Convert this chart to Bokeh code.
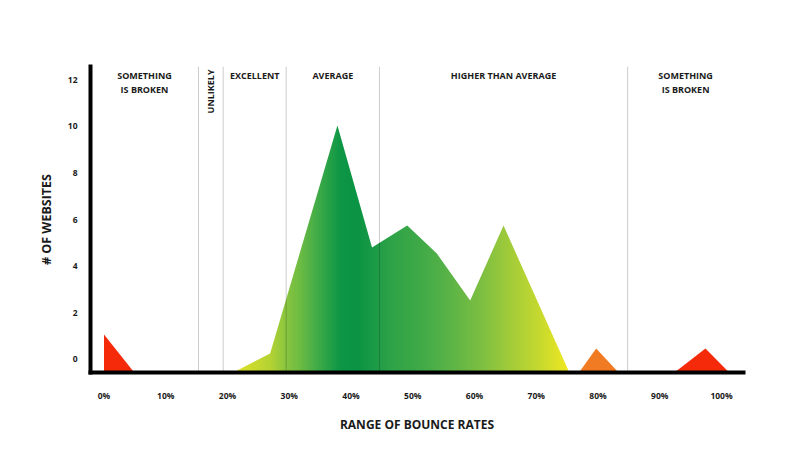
import numpy as np
from bokeh.plotting import figure
from bokeh.models import Range1d, FixedTicker, Span
from bokeh.core.properties import value
from bokeh.embed import file_html
from bokeh.resources import INLINE

# ---------------- data ----------------
X_TICKS = [0, 10, 20, 30, 40, 50, 60, 70, 80, 90, 100]
X_TICK_LABELS = ["0%", "10%", "20%", "30%", "40%", "50%", "60%", "70%", "80%", "90%", "100%"]
Y_TICKS = [0, 2, 4, 6, 8, 10, 12]

BASE = -0.5  # floor of the chart (axis line)

GREEN_X = [21.4, 26.9, 37.8, 43.4, 49.1, 53.9, 59.3, 64.7, 75.25]
GREEN_Y = [BASE, 0.26, 10.03, 4.8, 5.74, 4.54, 2.53, 5.74, BASE]

RED_LEFT_X = [0.0, 0.0, 4.7]
RED_LEFT_Y = [BASE, 1.07, BASE]
ORANGE_X = [77.1, 79.7, 83.1]
ORANGE_Y = [BASE, 0.47, BASE]
RED_RIGHT_X = [92.7, 97.4, 101.0]
RED_RIGHT_Y = [BASE, 0.47, BASE]

DIVIDERS = [15.3, 19.3, 29.5, 44.6, 84.8]
REGION_LABELS = ["SOMETHING\nIS BROKEN", "UNLIKELY", "EXCELLENT", "AVERAGE",
                 "HIGHER THAN AVERAGE", "SOMETHING\nIS BROKEN"]

X_START, X_END = -2.19, 103.56
Y_START, Y_END = -0.56, 12.56

FONT = "Open Sans"

# gradient stops (style): position in % and colour
GRAD_POS = [21.4, 26.9, 29.3, 31.8, 35.0, 38.2, 40.7, 43.4, 46.3, 51.2, 56.0, 61.0, 65.8, 70.7, 75.25]
GRAD_COL = ["#dfe226", "#b5d334", "#8cc63f", "#6bbb44", "#3aa948", "#0f9746", "#0a9444",
            "#1a9a47", "#2ea347", "#40aa48", "#5bb447", "#7dbf42", "#a3cc3a", "#c8da2e", "#f2e923"]

# ---------------- figure ----------------
p = figure(frame_width=653, frame_height=306,
           min_border_left=90, min_border_top=66, min_border_right=49, min_border_bottom=70,
           x_range=Range1d(X_START, X_END), y_range=Range1d(Y_START, Y_END),
           output_backend="svg", toolbar_location=None,
           background_fill_color="white", border_fill_color="white")
p.outline_line_color = None
p.xgrid.grid_line_color = None
p.ygrid.grid_line_color = None

# gradient area: gradient image masked above the curve
def hex_to_rgb(h):
    h = h.lstrip("#")
    return [int(h[i:i + 2], 16) for i in (0, 2, 4)]

rgb = np.array([hex_to_rgb(c) for c in GRAD_COL], dtype=float)
N = 400
xs = np.linspace(GREEN_X[0], GREEN_X[-1], N)
img = np.zeros((1, N), dtype=np.uint32)
view = img.view(dtype=np.uint8).reshape((1, N, 4))
for k in range(3):
    view[0, :, k] = np.interp(xs, GRAD_POS, rgb[:, k]).astype(np.uint8)
view[0, :, 3] = 255
top = max(GREEN_Y) + 0.3
p.image_rgba(image=[img], x=GREEN_X[0], y=BASE, dw=GREEN_X[-1] - GREEN_X[0], dh=top - BASE)
pad = 0.6
mask_x = [GREEN_X[0] - pad] + GREEN_X + [GREEN_X[-1] + pad]
mask_y = [BASE] + GREEN_Y + [BASE]
p.varea(x=mask_x, y1=mask_y, y2=[top + 0.3] * len(mask_x), fill_color="white")

# triangles
p.patch(RED_LEFT_X, RED_LEFT_Y, fill_color="#f42a0a", line_color=None)
p.patch(ORANGE_X, ORANGE_Y, fill_color="#f07b23", line_color=None)
p.patch(RED_RIGHT_X, RED_RIGHT_Y, fill_color="#f42a0a", line_color=None)

# region dividers
for d in DIVIDERS:
    p.add_layout(Span(location=d, dimension="height", line_color="#000000",
                      line_alpha=0.2, line_width=1))

# region labels (centred between boundaries)
bounds = [X_START] + DIVIDERS + [X_END]
centers = [(bounds[i] + bounds[i + 1]) / 2 for i in range(len(bounds) - 1)]
horiz_idx = [i for i, t in enumerate(REGION_LABELS) if t != "UNLIKELY"]
p.text(x=[centers[i] for i in horiz_idx], y=[Y_END] * len(horiz_idx),
       text=[REGION_LABELS[i] for i in horiz_idx], text_align="center", text_baseline="top",
       y_offset=2, text_font=value(FONT), text_font_style="bold", text_font_size="9px",
       text_color="#1a1a1a", text_line_height=1.15)
vi = REGION_LABELS.index("UNLIKELY")
p.text(x=[centers[vi]], y=[Y_END], text=[REGION_LABELS[vi]], angle=np.pi / 2,
       text_align="right", text_baseline="middle", y_offset=3,
       text_font=value(FONT), text_font_style="bold", text_font_size="9px",
       text_color="#1a1a1a")

# axes
for ax in (p.xaxis[0], p.yaxis[0]):
    ax.axis_line_width = 4
    ax.axis_line_color = "black"
    ax.axis_line_cap = "square"
    ax.major_tick_line_color = None
    ax.minor_tick_line_color = None
    ax.major_tick_out = 0
    ax.major_label_text_font = FONT
    ax.major_label_text_font_style = "bold"
    ax.major_label_text_font_size = "8.5px"
    ax.major_label_text_color = "#1a1a1a"
    ax.axis_label_text_font = FONT
    ax.axis_label_text_font_style = "bold"
    ax.axis_label_text_color = "#1a1a1a"

p.xaxis.ticker = FixedTicker(ticks=X_TICKS)
p.xaxis.major_label_overrides = {t: l for t, l in zip(X_TICKS, X_TICK_LABELS)}
p.xaxis.major_label_standoff = 17
p.xaxis.axis_label = "RANGE OF BOUNCE RATES"
p.xaxis.axis_label_text_font_size = "12px"
p.xaxis.axis_label_standoff = 12

p.yaxis.ticker = FixedTicker(ticks=Y_TICKS)
p.yaxis.major_label_standoff = 13
p.yaxis.axis_label = "# OF WEBSITES"
p.yaxis.axis_label_text_font_size = "12.5px"
p.yaxis.axis_label_standoff = 10

open("out.html", "w").write(file_html(p, INLINE))
